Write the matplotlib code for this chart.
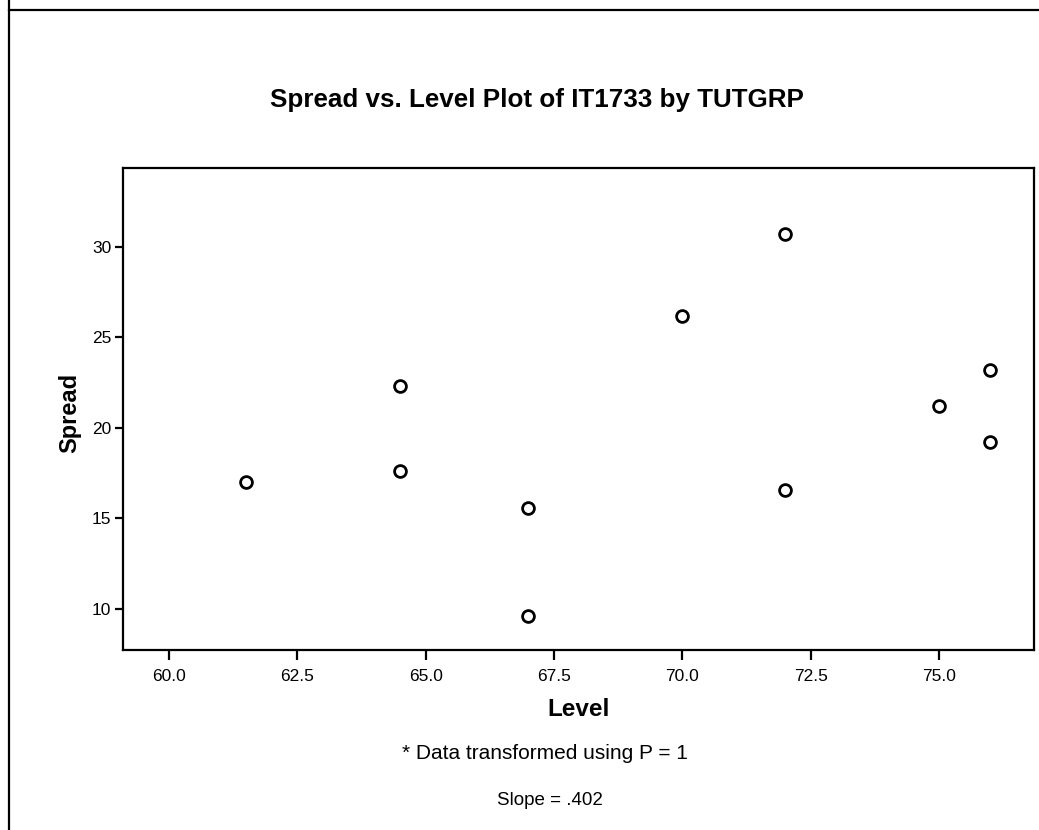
import matplotlib
matplotlib.use('Agg')
import matplotlib.pyplot as plt
from matplotlib.lines import Line2D

plt.rcParams['font.family'] = ['Liberation Sans', 'DejaVu Sans']

# Level (median) and spread (IQR) per tutorial group
level = [61.5, 64.5, 64.5, 67.0, 67.0, 70.0, 72.0, 72.0, 75.0, 76.0, 76.0]
spread = [17.0, 22.3, 17.6, 15.6, 9.6, 26.2, 30.7, 16.6, 21.2, 23.2, 19.2]

x_ticks = [60.0, 62.5, 65.0, 67.5, 70.0, 72.5, 75.0]
y_ticks = [10, 15, 20, 25, 30]

title = 'Spread vs. Level Plot of IT1733 by TUTGRP'
note = '* Data transformed using P = 1'
slope_text = 'Slope = .402'

W, H = 1039, 830
fig = plt.figure(figsize=(W / 100, H / 100), dpi=100)

# page frame (top and left edges)
fig.add_artist(Line2D([9 / W, 9 / W], [0, 1], color='black', lw=1.6,
                      transform=fig.transFigure))
fig.add_artist(Line2D([9 / W, 1], [1 - 10 / H, 1 - 10 / H], color='black',
                      lw=1.6, transform=fig.transFigure))

ax = fig.add_axes([122.5 / W, 1 - 650 / H, (1034 - 122.5) / W, (650 - 168) / H])
ax.plot(level, spread, 'o', ms=8.5, mfc='white', mec='black', mew=2)

ax.set_xlim(59.094, 76.85)
ax.set_ylim(7.735, 34.36)
ax.set_xticks(x_ticks)
ax.set_xticklabels(['{:.1f}'.format(t) for t in x_ticks])
ax.set_yticks(y_ticks)

for s in ax.spines.values():
    s.set_linewidth(1.6)
ax.tick_params(axis='x', direction='out', length=7, width=1.6,
               labelsize=12.5, pad=7)
ax.tick_params(axis='y', direction='out', length=6, width=1.6,
               labelsize=12.5, pad=2)

ax.set_xlabel('Level', fontsize=17.5, fontweight='bold', labelpad=10)

fig.text(70 / W, 1 - 413 / H, 'Spread', rotation=90, fontsize=17,
         fontweight='bold', ha='center', va='center')
fig.text(537 / W, 1 - 100 / H, title, fontsize=18.7, fontweight='bold',
         ha='center', va='center')
fig.text(545 / W, 1 - 753 / H, note, fontsize=15, ha='center', va='center')
fig.text(550 / W, 1 - 800 / H, slope_text, fontsize=13.5, ha='center',
         va='center')

fig.savefig('out.png', dpi=100)
